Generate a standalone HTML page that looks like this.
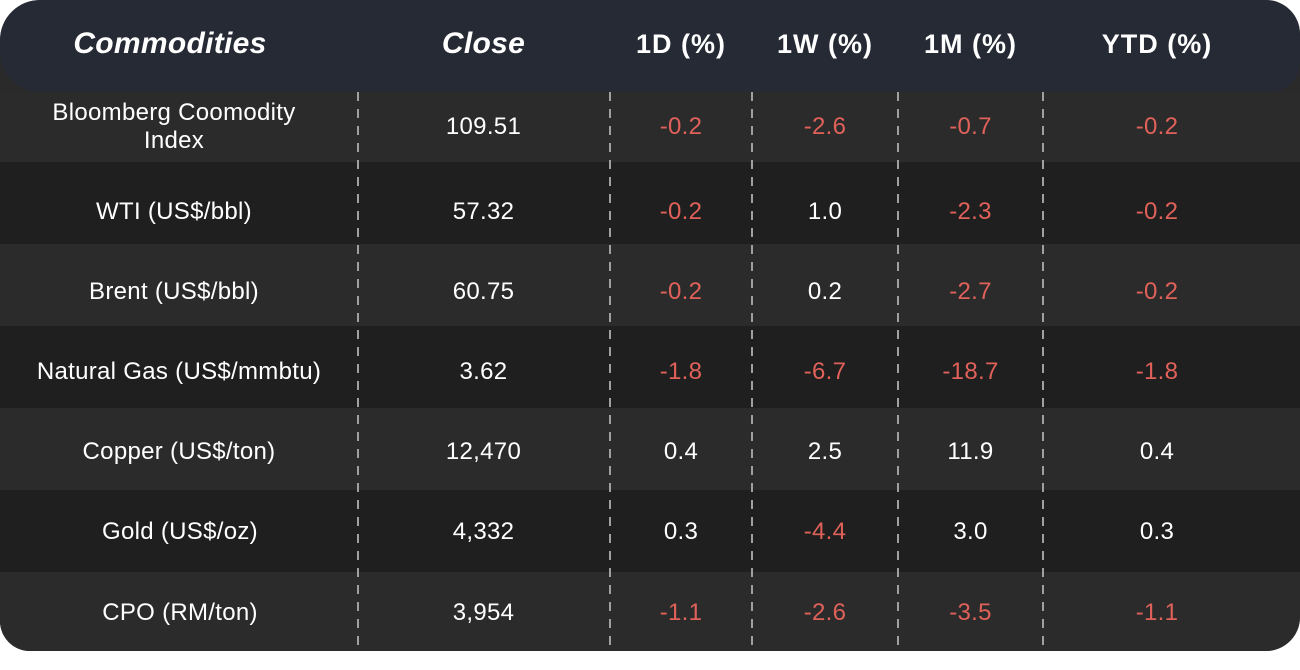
<!DOCTYPE html>
<html><head><style>
body{margin:0;width:1300px;height:670px;background:#fff;overflow:hidden;font-family:"Liberation Sans",sans-serif;}
.wrap{position:absolute;left:0;top:0;width:1300px;height:651px;background:#2a2a2a;border-radius:40px 34px 34px 30px;overflow:hidden;}
.hdr{position:absolute;left:0;top:0;width:1300px;height:92px;background:#262a34;border-radius:40px 34px 30px 40px;}
.row{position:absolute;left:0;width:1300px;}
.c{position:absolute;top:0;height:100%;display:flex;align-items:center;justify-content:center;text-align:center;color:#fff;font-size:24px;line-height:28px;letter-spacing:0.3px;box-sizing:border-box;white-space:nowrap;}
.h{font-weight:bold;font-style:italic;font-size:30px;padding-bottom:4px;}
.h2{font-weight:bold;font-size:27px;letter-spacing:1px;padding-bottom:4px;}
.r{color:#e0615a;}
.dv{position:absolute;top:92px;height:561px;width:1.5px;background:repeating-linear-gradient(to bottom,#a0a0a0 0 9px,transparent 9px 17px);}
</style></head><body>
<div class="wrap">
<div class="hdr">
<div class="c h" style="left:0;width:340px">Commodities</div>
<div class="c h" style="left:357px;width:253px">Close</div>
<div class="c h2" style="left:610px;width:142px">1D (%)</div>
<div class="c h2" style="left:752px;width:146px">1W (%)</div>
<div class="c h2" style="left:898px;width:145px">1M (%)</div>
<div class="c h2" style="left:1043px;width:228px">YTD (%)</div>
</div>
<div class="row" style="top:92px;height:70px;background:#2b2b2b">
<div class="c" style="left:0;width:348px">Bloomberg Coomodity<br>Index</div><div class="c" style="left:357px;width:253px">109.51</div><div class="c r" style="left:610px;width:142px">-0.2</div><div class="c r" style="left:752px;width:146px">-2.6</div><div class="c r" style="left:898px;width:145px">-0.7</div><div class="c r" style="left:1043px;width:228px">-0.2</div></div>
<div class="row" style="top:162px;height:82px;background:#1f1f1f;--p:18px">
<div class="c" style="left:0;width:348px;padding-top:18px">WTI (US$/bbl)</div><div class="c" style="left:357px;width:253px;padding-top:18px">57.32</div><div class="c r" style="left:610px;width:142px;padding-top:18px">-0.2</div><div class="c" style="left:752px;width:146px;padding-top:18px">1.0</div><div class="c r" style="left:898px;width:145px;padding-top:18px">-2.3</div><div class="c r" style="left:1043px;width:228px;padding-top:18px">-0.2</div></div>
<div class="row" style="top:244px;height:82px;background:#2b2b2b">
<div class="c" style="left:0;width:348px;padding-top:14px">Brent (US$/bbl)</div><div class="c" style="left:357px;width:253px;padding-top:14px">60.75</div><div class="c r" style="left:610px;width:142px;padding-top:14px">-0.2</div><div class="c" style="left:752px;width:146px;padding-top:14px">0.2</div><div class="c r" style="left:898px;width:145px;padding-top:14px">-2.7</div><div class="c r" style="left:1043px;width:228px;padding-top:14px">-0.2</div></div>
<div class="row" style="top:326px;height:82px;background:#1f1f1f">
<div class="c" style="left:0;width:358px;padding-top:10px">Natural Gas (US$/mmbtu)</div><div class="c" style="left:357px;width:253px;padding-top:10px">3.62</div><div class="c r" style="left:610px;width:142px;padding-top:10px">-1.8</div><div class="c r" style="left:752px;width:146px;padding-top:10px">-6.7</div><div class="c r" style="left:898px;width:145px;padding-top:10px">-18.7</div><div class="c r" style="left:1043px;width:228px;padding-top:10px">-1.8</div></div>
<div class="row" style="top:408px;height:82px;background:#2b2b2b">
<div class="c" style="left:0;width:358px;padding-top:6px">Copper (US$/ton)</div><div class="c" style="left:357px;width:253px;padding-top:6px">12,470</div><div class="c" style="left:610px;width:142px;padding-top:6px">0.4</div><div class="c" style="left:752px;width:146px;padding-top:6px">2.5</div><div class="c" style="left:898px;width:145px;padding-top:6px">11.9</div><div class="c" style="left:1043px;width:228px;padding-top:6px">0.4</div></div>
<div class="row" style="top:490px;height:82px;background:#1f1f1f">
<div class="c" style="left:0;width:360px;padding-top:2px">Gold (US$/oz)</div><div class="c" style="left:357px;width:253px;padding-top:2px">4,332</div><div class="c" style="left:610px;width:142px;padding-top:2px">0.3</div><div class="c r" style="left:752px;width:146px;padding-top:2px">-4.4</div><div class="c" style="left:898px;width:145px;padding-top:2px">3.0</div><div class="c" style="left:1043px;width:228px;padding-top:2px">0.3</div></div>
<div class="row" style="top:572px;height:81px;background:#2b2b2b">
<div class="c" style="left:0;width:360px">CPO (RM/ton)</div><div class="c" style="left:357px;width:253px">3,954</div><div class="c r" style="left:610px;width:142px">-1.1</div><div class="c r" style="left:752px;width:146px">-2.6</div><div class="c r" style="left:898px;width:145px">-3.5</div><div class="c r" style="left:1043px;width:228px">-1.1</div></div>
<div class="dv" style="left:357px"></div>
<div class="dv" style="left:609px"></div>
<div class="dv" style="left:751px"></div>
<div class="dv" style="left:897px"></div>
<div class="dv" style="left:1042px"></div>
</div>
</body></html>
